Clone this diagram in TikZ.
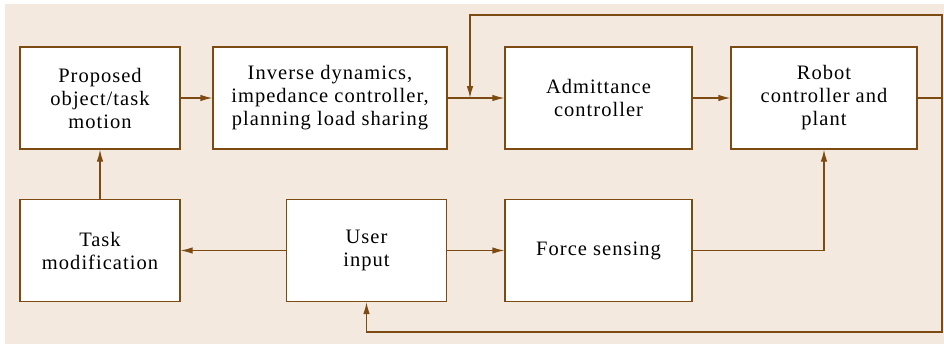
\documentclass[tikz,border=0pt]{standalone}
\usepackage{fontspec}
\setmainfont{Liberation Serif}
\newfontfamily\boxfont{Liberation Serif}[LetterSpace=5]
\usepackage{tikz}
\usetikzlibrary{positioning,arrows.meta,calc}
\definecolor{linecolor}{RGB}{125,75,18}
\definecolor{bgcolor}{RGB}{243,233,223}

\begin{document}
\begin{tikzpicture}[x=1pt, y=-1pt,
  block/.style = {rectangle, draw=linecolor, fill=white, line width=1.2pt,
                  minimum height=102pt, inner sep=0pt, align=center,
                  font=\boxfont\fontsize{20.5}{23}\selectfont},
  flow/.style  = {draw=linecolor, line width=1.2pt,
                  -{Latex[length=12pt,width=6.5pt]}},
  link/.style  = {draw=linecolor, line width=1.2pt}
]
\useasboundingbox (0,0) rectangle (944,345);
\fill[bgcolor] (5,4) rectangle (944,344);

\def\Ra{98}
\def\Rb{250.5}
\def\Xsplit{470}
\def\Xright{942}

% top row
\node[block, minimum width=160pt] (prop)   at (100,\Ra)   {Proposed\\object/task\\motion};
\node[block, minimum width=234pt] (invdyn) at (330,\Ra)   {Inverse dynamics,\\impedance controller,\\planning load sharing};
\node[block, minimum width=187pt] (admit)  at (598.5,\Ra) {Admittance\\controller};
\node[block, minimum width=186pt] (robot)  at (824,\Ra)   {Robot\\controller and\\plant};

% bottom row
\node[block, minimum width=160pt] (taskmod) at (100,\Rb)   {Task\\modification};
\node[block, minimum width=160pt] (user)    at (366.5,\Rb) {User\\input};
\node[block, minimum width=187pt] (force)   at (598.5,\Rb) {Force sensing};

\coordinate (split)    at (\Xsplit,\Ra);
\coordinate (topleft)  at (\Xsplit,15);
\coordinate (topright) at (\Xright,15);
\coordinate (rightout) at (\Xright,\Ra);
\coordinate (botright) at (\Xright,332);
\coordinate (botleft)  at (user.south |- botright);

\draw[flow] (prop) -- (invdyn);
\draw[flow] (invdyn) -- (admit);
\draw[flow] (admit) -- (robot);
\draw[flow] (taskmod) -- (prop);
\draw[flow] (user) -- (taskmod);
\draw[flow] (user) -- (force);
\draw[flow] (force.east) -| (robot.south);

% feedback loops
\draw[link] (robot.east) -- (rightout);
\draw[flow] (rightout) -- (topright) -- (topleft) -- (split);
\draw[flow] (rightout) -- (botright) -- (botleft) -- (user.south);
\end{tikzpicture}
\end{document}
